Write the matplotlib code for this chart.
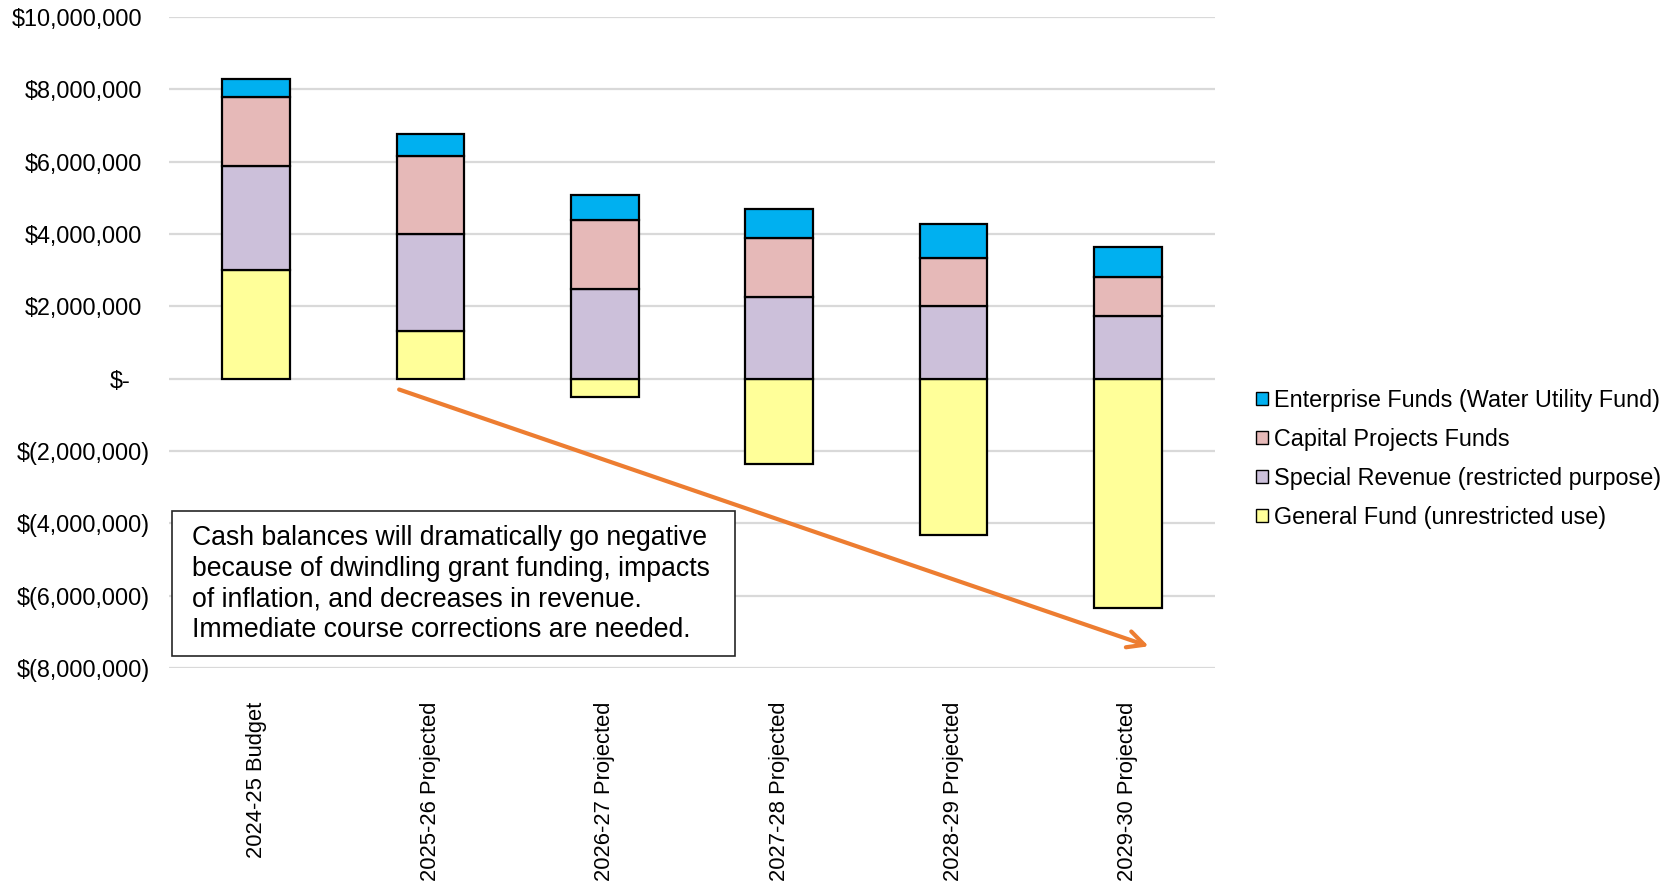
import numpy as np
import matplotlib.pyplot as plt
from matplotlib.patches import Rectangle
from matplotlib.ticker import FixedLocator
import matplotlib.transforms as mtransforms

plt.rcParams['font.family'] = ['Liberation Sans', 'DejaVu Sans']

# 데이터 (단위: 달러)
years = ['2024-25 Budget', '2025-26 Projected', '2026-27 Projected',
         '2027-28 Projected', '2028-29 Projected', '2029-30 Projected']
general_fund = np.array([3.00, 1.31, -0.50, -2.37, -4.33, -6.35]) * 1e6
special_revenue = np.array([2.88, 2.69, 2.49, 2.27, 2.01, 1.73]) * 1e6
capital_projects = np.array([1.91, 2.17, 1.89, 1.63, 1.34, 1.07]) * 1e6
enterprise_funds = np.array([0.49, 0.59, 0.71, 0.78, 0.92, 0.85]) * 1e6

y_ticks = np.arange(-8e6, 10e6 + 1, 2e6)
y_labels = ['$(8,000,000)', '$(6,000,000)', '$(4,000,000)', '$(2,000,000)', '$-',
            '$2,000,000', '$4,000,000', '$6,000,000', '$8,000,000', '$10,000,000']

note = ('Cash balances will dramatically go negative\n'
        'because of dwindling grant funding, impacts\n'
        'of inflation, and decreases in revenue.\n'
        'Immediate course corrections are needed.')

colors = {
    'enterprise': '#00B0F0',
    'capital': '#E6B9B8',
    'special': '#CCC0DA',
    'general': '#FFFF99',
}

W, H = 1676, 883
fig = plt.figure(figsize=(W / 100, H / 100), dpi=100)
ax = fig.add_axes([169 / W, 1 - 668 / H, (1215 - 169) / W, (668 - 17) / H])

x = np.arange(len(years))
bw = 0.39
edge = dict(edgecolor='black', linewidth=1.6, zorder=3)

# 양수는 0부터 위로 쌓고, 음수(일반기금)는 0부터 아래로
special_bottom = np.maximum(general_fund, 0)
capital_bottom = special_bottom + special_revenue
enterprise_bottom = capital_bottom + capital_projects

ax.bar(x, general_fund, bw, color=colors['general'], **edge)
ax.bar(x, special_revenue, bw, bottom=special_bottom, color=colors['special'], **edge)
ax.bar(x, capital_projects, bw, bottom=capital_bottom, color=colors['capital'], **edge)
ax.bar(x, enterprise_funds, bw, bottom=enterprise_bottom, color=colors['enterprise'], **edge)

ax.set_xlim(-0.5, len(years) - 0.5)
ax.set_ylim(-8e6, 10e6)
for yv in y_ticks:
    ax.axhline(yv, color='#D9D9D9', linewidth=1.6, zorder=1)

for s in ax.spines.values():
    s.set_visible(False)

ax.yaxis.set_major_locator(FixedLocator(y_ticks))
ax.set_yticklabels(y_labels, fontsize=16.8, color='#000000')
ax.tick_params(axis='y', length=0, pad=0)
# 회계 서식처럼 라벨 끝 위치 맞춤
for lab, txt in zip(ax.get_yticklabels(), y_labels):
    if txt == '$-':
        dx = -39
    elif txt.startswith('$('):
        dx = -19
    else:
        dx = -27
    lab.set_transform(lab.get_transform() +
                      mtransforms.ScaledTranslation(dx / 100, 0, fig.dpi_scale_trans))

ax.set_xticks(x)
ax.set_xticklabels(years, rotation=90, fontsize=15.8)
ax.tick_params(axis='x', length=0, pad=24)

# 추세 화살표
ax.annotate('', xy=(5.12, -7.40e6), xytext=(0.82, -0.30e6),
            arrowprops=dict(arrowstyle='->', color='#ED7D31', lw=3,
                            mutation_scale=30, shrinkA=0, shrinkB=0),
            zorder=4)

# 설명 상자
fig.patches.append(Rectangle((172 / W, 1 - 656 / H), (735 - 172) / W, (656 - 511) / H,
                             transform=fig.transFigure, facecolor='white',
                             edgecolor='#262626', linewidth=1.2, zorder=5))
fig.text(192 / W, 1 - 584 / H, note, fontsize=19.2, va='center', ha='left',
         linespacing=1.24, zorder=6)

handles = [
    Rectangle((0, 0), 1, 1, facecolor=colors['enterprise'], edgecolor='black', linewidth=1),
    Rectangle((0, 0), 1, 1, facecolor=colors['capital'], edgecolor='black', linewidth=1),
    Rectangle((0, 0), 1, 1, facecolor=colors['special'], edgecolor='black', linewidth=1),
    Rectangle((0, 0), 1, 1, facecolor=colors['general'], edgecolor='black', linewidth=1),
]
labels = ['Enterprise Funds (Water Utility Fund)', 'Capital Projects Funds',
          'Special Revenue (restricted purpose)', 'General Fund (unrestricted use)']
fig.legend(handles, labels, loc='upper left', bbox_to_anchor=(1256 / W, 1 - 389 / H),
           frameon=False, fontsize=16.8, handlelength=0.5, handleheight=0.5,
           handletextpad=0.25, labelspacing=0.68, borderpad=0, borderaxespad=0)

fig.savefig('out.png', dpi=100)
